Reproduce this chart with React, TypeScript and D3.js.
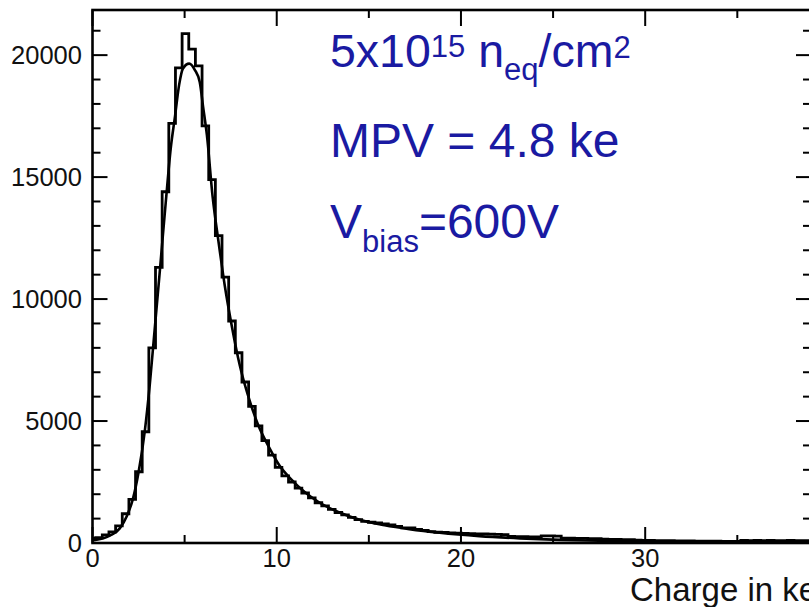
import React, { useRef, useEffect } from "react";
import * as d3 from "d3";

// Histogram of collected charge: bins start at -0.19 ke, width 0.361 ke
const binStart = -0.19;
const binWidth = 0.361;
const histCounts = [
  190, 220, 330, 460, 700, 1200, 1790, 2920, 4560, 8000,
  11300, 14400, 17200, 19480, 20880, 20250, 19560, 17100, 14900, 12600,
  10900, 9100, 7800, 6600, 5600, 4800, 4200, 3600, 3100, 2750,
  2500, 2250, 2050, 1850, 1650, 1520, 1380, 1250, 1150, 1050,
  960, 890, 850, 820, 780, 740, 680, 620, 620, 560,
  520, 470, 440, 430, 410, 400, 390, 380, 370, 370,
  360, 350, 340, 270, 260, 260, 250, 250, 290, 290,
  280, 200, 200, 190, 190, 180, 180, 160, 150, 150,
  140, 140, 120, 110, 110, 100, 100, 100, 90, 90,
  90, 80, 80, 80, 80, 70, 70, 70, 110, 100,
  110, 100, 110, 100, 100, 110, 100, 100, 100,
];

// Fitted curve
const fitX = [
  0, 0.94, 1.48, 1.86, 2.19, 2.5, 2.84, 3.11, 3.38, 3.66, 3.98, 4.25, 4.48,
  4.7, 4.91, 5.25, 5.55, 5.82, 6.0, 6.21, 6.52, 6.85, 7.17, 7.56, 7.99, 8.42,
  8.96, 9.6, 10.13, 10.8, 11.5, 12.33, 13.41, 14.5, 15.86, 17.2, 18.84, 21.0,
  23.2, 25.35, 27.5, 30.2, 32.9, 36.2, 39,
];
const fitY = [
  100, 300, 600, 1100, 1800, 2900, 4600, 6500, 8800, 11200, 14000, 16200,
  17500, 18770, 19450, 19650, 19400, 18900, 17900, 16720, 14200, 12300, 10600,
  8900, 7300, 6100, 4900, 3900, 3200, 2600, 2100, 1650, 1250, 950, 730, 570,
  420, 280, 190, 130, 95, 65, 50, 40, 35,
];

const xTicksMajor = [0, 10, 20, 30];
const yTicksMajor = [0, 5000, 10000, 15000, 20000];

const W = 809;
const H = 607;
const blue = "#1a1aa2";

export default function App() {
  const svgRef = useRef<SVGSVGElement>(null);

  useEffect(() => {
    document.body.style.margin = "0";
    const svg = d3.select(svgRef.current);
    svg.selectAll("*").remove();

    const left = 92.5;
    const right = 811;
    const top = 10;
    const bottom = 543;

    const x = d3.scaleLinear().domain([0, 39]).range([left, right]);
    const y = d3.scaleLinear().domain([0, 21850]).range([bottom, top]);

    svg.attr("width", W).attr("height", H);

    svg
      .append("clipPath")
      .attr("id", "frame")
      .append("rect")
      .attr("x", left)
      .attr("y", top)
      .attr("width", right - left)
      .attr("height", bottom - top);

    // histogram outline
    const pts: [number, number][] = [[binStart, 0]];
    histCounts.forEach((c, i) => pts.push([binStart + i * binWidth, c]));
    pts.push([binStart + histCounts.length * binWidth, histCounts[histCounts.length - 1]]);

    const step = d3
      .line<[number, number]>()
      .x((d) => x(d[0]))
      .y((d) => y(d[1]))
      .curve(d3.curveStepAfter);

    svg
      .append("path")
      .attr("clip-path", "url(#frame)")
      .attr("d", step(pts))
      .attr("fill", "none")
      .attr("stroke", "#000")
      .attr("stroke-width", 2.8);

    // fit curve
    const fit = d3
      .line<number>()
      .x((d) => x(d))
      .y((_, i) => y(fitY[i]))
      .curve(d3.curveMonotoneX);

    svg
      .append("path")
      .attr("clip-path", "url(#frame)")
      .attr("d", fit(fitX))
      .attr("fill", "none")
      .attr("stroke", "#000")
      .attr("stroke-width", 2.6);

    // frame
    svg
      .append("rect")
      .attr("x", left)
      .attr("y", top)
      .attr("width", right - left)
      .attr("height", bottom - top)
      .attr("fill", "none")
      .attr("stroke", "#000")
      .attr("stroke-width", 2.6);

    // y ticks (left and right, every 1000)
    const yMinor = d3.range(0, 21001, 1000);
    yMinor.forEach((v) => {
      const len = v % 5000 === 0 ? 15 : 8;
      svg.append("line")
        .attr("x1", left).attr("x2", left + len)
        .attr("y1", y(v)).attr("y2", y(v))
        .attr("stroke", "#000").attr("stroke-width", 2);
      svg.append("line")
        .attr("x1", right).attr("x2", right - len)
        .attr("y1", y(v)).attr("y2", y(v))
        .attr("stroke", "#000").attr("stroke-width", 2);
    });

    // x ticks (bottom and top, every 5)
    d3.range(0, 39, 5).forEach((v) => {
      const len = v % 10 === 0 ? 16 : 8;
      svg.append("line")
        .attr("x1", x(v)).attr("x2", x(v))
        .attr("y1", bottom).attr("y2", bottom - len)
        .attr("stroke", "#000").attr("stroke-width", 2);
      svg.append("line")
        .attr("x1", x(v)).attr("x2", x(v))
        .attr("y1", top).attr("y2", top + len)
        .attr("stroke", "#000").attr("stroke-width", 2);
    });

    const font = "'Liberation Sans', Arial, Helvetica, sans-serif";

    svg.selectAll("text.ylab")
      .data(yTicksMajor)
      .join("text")
      .attr("class", "ylab")
      .attr("x", 82)
      .attr("y", (d) => y(d) + 9)
      .attr("text-anchor", "end")
      .attr("font-family", font)
      .attr("font-size", 25.5)
      .attr("fill", "#111")
      .text((d) => d);

    svg.selectAll("text.xlab")
      .data(xTicksMajor)
      .join("text")
      .attr("class", "xlab")
      .attr("x", (d) => x(d))
      .attr("y", 567)
      .attr("text-anchor", "middle")
      .attr("font-family", font)
      .attr("font-size", 25.5)
      .attr("fill", "#111")
      .text((d) => d);

    svg.append("text")
      .attr("x", 630)
      .attr("y", 601)
      .attr("font-family", font)
      .attr("font-size", 33)
      .attr("fill", "#111")
      .text("Charge in ke");

    // annotations
    const t1 = svg.append("text")
      .attr("x", 330).attr("y", 67)
      .attr("font-family", font).attr("font-size", 46.5).attr("fill", blue);
    t1.append("tspan").text("5x10");
    t1.append("tspan").attr("y", 57).attr("font-size", 31).text("15");
    t1.append("tspan").attr("y", 67).text(" n");
    t1.append("tspan").attr("y", 80).attr("font-size", 31).text("eq");
    t1.append("tspan").attr("y", 67).text("/cm");
    t1.append("tspan").attr("y", 58).attr("font-size", 31).text("2");

    svg.append("text")
      .attr("x", 330).attr("y", 157)
      .attr("font-family", font).attr("font-size", 48).attr("fill", blue)
      .text("MPV = 4.8 ke");

    const t3 = svg.append("text")
      .attr("x", 330).attr("y", 238)
      .attr("font-family", font).attr("font-size", 48).attr("fill", blue);
    t3.append("tspan").text("V");
    t3.append("tspan").attr("y", 252).attr("font-size", 31).text("bias");
    t3.append("tspan").attr("y", 238).text("=600V");
  }, []);

  return <svg ref={svgRef} />;
}
